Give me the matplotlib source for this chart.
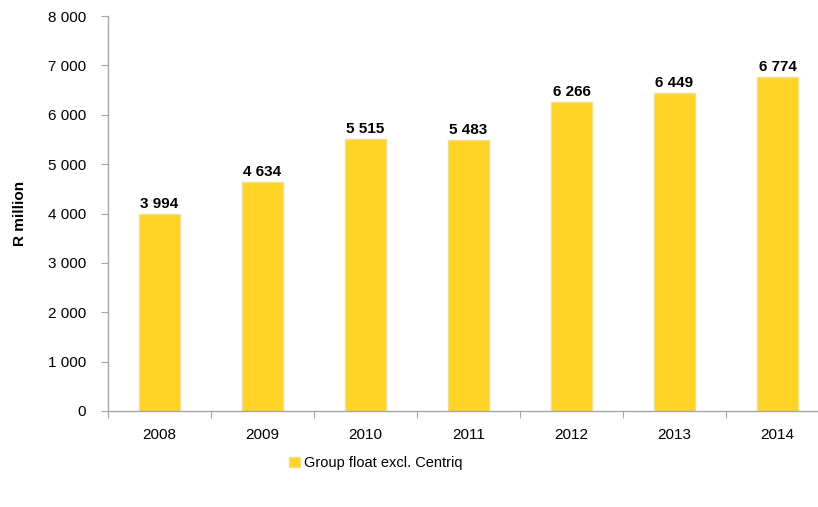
import matplotlib.pyplot as plt
from matplotlib.ticker import FuncFormatter, FixedLocator

# float history, R million
years = ["2008", "2009", "2010", "2011", "2012", "2013", "2014"]
group_float = [3994, 4634, 5515, 5483, 6266, 6449, 6774]
series_name = "Group float excl. Centriq"

BAR_COLOR = "#FFD427"
AXIS_COLOR = "#A6A6A6"

plt.rcParams["font.family"] = ["Liberation Sans", "DejaVu Sans"]


def thousands(v, pos=None):
    return f"{int(v):,}".replace(",", " ")


fig = plt.figure(figsize=(8.18, 5.07), dpi=100)
# the category axis runs slightly past the right edge of the canvas
ax = fig.add_axes([108 / 818, 96 / 507, 721 / 818, 395 / 507])

x = list(range(len(years)))
bars = ax.bar(x, group_float, width=0.40, color=BAR_COLOR,
              edgecolor="#F2DE8E", linewidth=1.0, zorder=2)

for xi, v in zip(x, group_float):
    ax.annotate(thousands(v), (xi, v), xytext=(0, 2), textcoords="offset points",
                ha="center", va="bottom", fontsize=11, fontweight="bold")

ax.set_xlim(-0.5, len(years) - 0.5)
ax.set_ylim(0, 8000)
ax.set_yticks(range(0, 8001, 1000))
ax.yaxis.set_major_formatter(FuncFormatter(thousands))

# ticks sit on category boundaries, labels in the middle
ax.xaxis.set_major_locator(FixedLocator([i - 0.5 for i in range(len(years) + 1)]))
ax.xaxis.set_major_formatter(FuncFormatter(lambda v, p: ""))
ax.set_xticks(x, minor=True)
ax.set_xticklabels(years, minor=True)
ax.tick_params(axis="x", which="minor", length=0, pad=12, labelsize=11)
ax.tick_params(axis="x", which="major", length=5, color=AXIS_COLOR, direction="out")
ax.tick_params(axis="y", length=5, color=AXIS_COLOR, pad=11, labelsize=11)

for side in ("top", "right"):
    ax.spines[side].set_visible(False)
for side in ("left", "bottom"):
    ax.spines[side].set_color(AXIS_COLOR)
    ax.spines[side].set_linewidth(1.0)

ax.set_ylabel("R million", fontsize=11, fontweight="bold")
ax.yaxis.set_label_coords(-0.112, 0.5)

fig.legend([bars], [series_name], loc="center", bbox_to_anchor=(376 / 818, 1 - 463 / 507),
           frameon=False, fontsize=10.5, handlelength=0.75, handleheight=0.75,
           handletextpad=0.3, borderaxespad=0)

fig.savefig("out.png", dpi=100)
